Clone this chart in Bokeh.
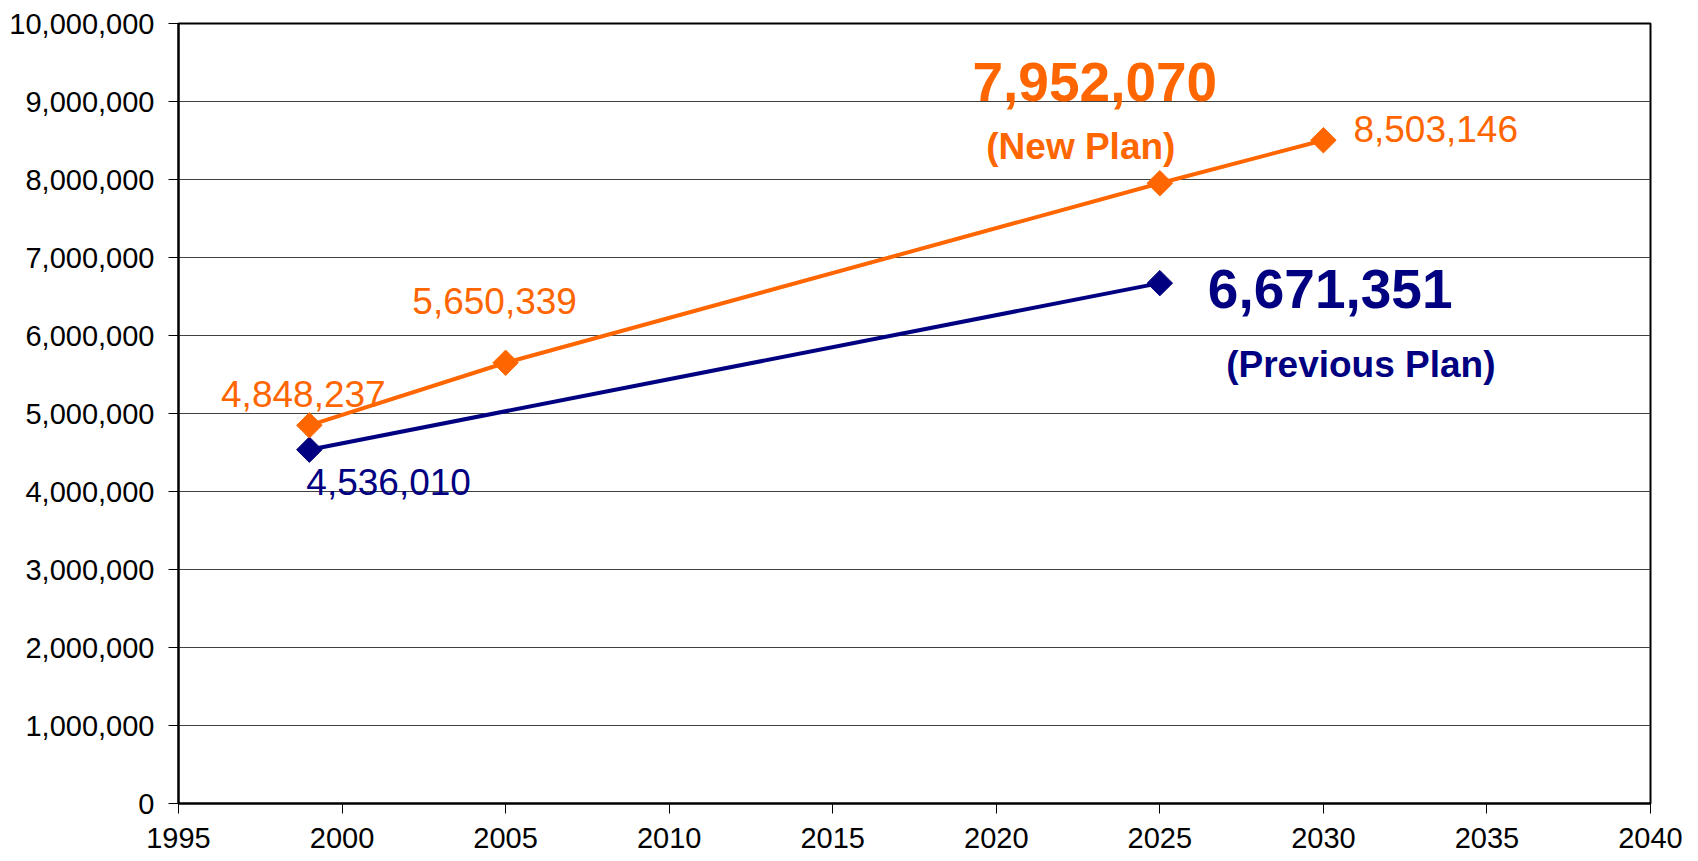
import math
from bokeh.plotting import figure
from bokeh.models import ColumnDataSource, NumeralTickFormatter, FixedTicker
from bokeh.core.properties import value
from bokeh.embed import file_html
from bokeh.resources import INLINE

# ---- data ----
new_years = [1999, 2005, 2025, 2030]
new_values = [4848237, 5650339, 7952070, 8503146]
prev_years = [1999, 2025]
prev_values = [4536010, 6671351]
x_ticks = [1995, 2000, 2005, 2010, 2015, 2020, 2025, 2030, 2035, 2040]
y_ticks = [0, 1000000, 2000000, 3000000, 4000000, 5000000, 6000000,
           7000000, 8000000, 9000000, 10000000]
new_label = "(New Plan)"
prev_label = "(Previous Plan)"

ORANGE = "#FF6600"
NAVY = "#000080"
FONT = "Liberation Sans"

p = figure(width=1690, height=858, x_range=(1995, 2040), y_range=(0, 10000000),
           output_backend="svg", toolbar_location=None,
           min_border_left=178, min_border_right=40, min_border_top=23,
           min_border_bottom=55)
p.background_fill_color = "white"
p.border_fill_color = "white"
p.outline_line_color = "black"
p.outline_line_width = 2

p.xgrid.grid_line_color = None
p.ygrid.grid_line_color = "#404040"
p.ygrid.grid_line_width = 1

for ax in (p.xaxis, p.yaxis):
    ax.axis_line_color = "black"
    ax.axis_line_width = 2
    ax.major_tick_line_color = "black"
    ax.major_tick_line_width = 1
    ax.major_tick_out = 10
    ax.major_tick_in = 0
    ax.minor_tick_line_color = None
    ax.major_label_text_font = FONT
    ax.major_label_text_font_size = "29px"
    ax.major_label_text_color = "black"

p.xaxis.ticker = FixedTicker(ticks=x_ticks)
p.yaxis.ticker = FixedTicker(ticks=y_ticks)
p.yaxis.formatter = NumeralTickFormatter(format="0,0")
p.xaxis.major_label_standoff = 14
p.yaxis.major_label_standoff = 14

new_src = ColumnDataSource(dict(x=new_years, y=new_values))
prev_src = ColumnDataSource(dict(x=prev_years, y=prev_values))

p.line("x", "y", source=prev_src, line_color=NAVY, line_width=4)
p.scatter("x", "y", source=prev_src, marker="square", angle=math.pi / 4,
          size=18, fill_color=NAVY, line_color=NAVY)
p.line("x", "y", source=new_src, line_color=ORANGE, line_width=4)
p.scatter("x", "y", source=new_src, marker="square", angle=math.pi / 4,
          size=18, fill_color=ORANGE, line_color=ORANGE)

fmt = lambda v: f"{v:,}"
DY = -13
DYB = -19

# regular data labels (orange)
p.text(x=[new_years[0]], y=[new_values[0]], text=[fmt(new_values[0])],
       x_offset=-6, y_offset=-18 + DY, text_align="center", text_baseline="alphabetic",
       text_font=value(FONT), text_font_size="37px", text_color=ORANGE)
p.text(x=[new_years[1]], y=[new_values[1]], text=[fmt(new_values[1])],
       x_offset=-11, y_offset=-49 + DY, text_align="center", text_baseline="alphabetic",
       text_font=value(FONT), text_font_size="37px", text_color=ORANGE)
p.text(x=[new_years[3]], y=[new_values[3]], text=[fmt(new_values[3])],
       x_offset=30, y_offset=2 + DY, text_align="left", text_baseline="alphabetic",
       text_font=value(FONT), text_font_size="37px", text_color=ORANGE)
# big orange
p.text(x=[new_years[2]], y=[new_values[2]], text=[fmt(new_values[2])],
       x_offset=-65, y_offset=-82 + DYB, text_align="center", text_baseline="alphabetic",
       text_font=value(FONT), text_font_size="55px", text_font_style="bold",
       text_color=ORANGE)
p.text(x=[new_years[2]], y=[new_values[2]], text=[new_label],
       x_offset=-79, y_offset=-24 + DY, text_align="center", text_baseline="alphabetic",
       text_font=value(FONT), text_font_size="37px", text_font_style="bold",
       text_color=ORANGE)

# navy labels
p.text(x=[prev_years[0]], y=[prev_values[0]], text=[fmt(prev_values[0])],
       x_offset=-3, y_offset=45 + DY, text_align="left", text_baseline="alphabetic",
       text_font=value(FONT), text_font_size="37px", text_color=NAVY)
p.text(x=[prev_years[1]], y=[prev_values[1]], text=[fmt(prev_values[1])],
       x_offset=48, y_offset=25 + DYB, text_align="left", text_baseline="alphabetic",
       text_font=value(FONT), text_font_size="55px", text_font_style="bold",
       text_color=NAVY)
p.text(x=[prev_years[1]], y=[prev_values[1]], text=[prev_label],
       x_offset=201, y_offset=94 + DY, text_align="center", text_baseline="alphabetic",
       text_font=value(FONT), text_font_size="37px", text_font_style="bold",
       text_color=NAVY)

open("out.html", "w").write(file_html(p, INLINE))
